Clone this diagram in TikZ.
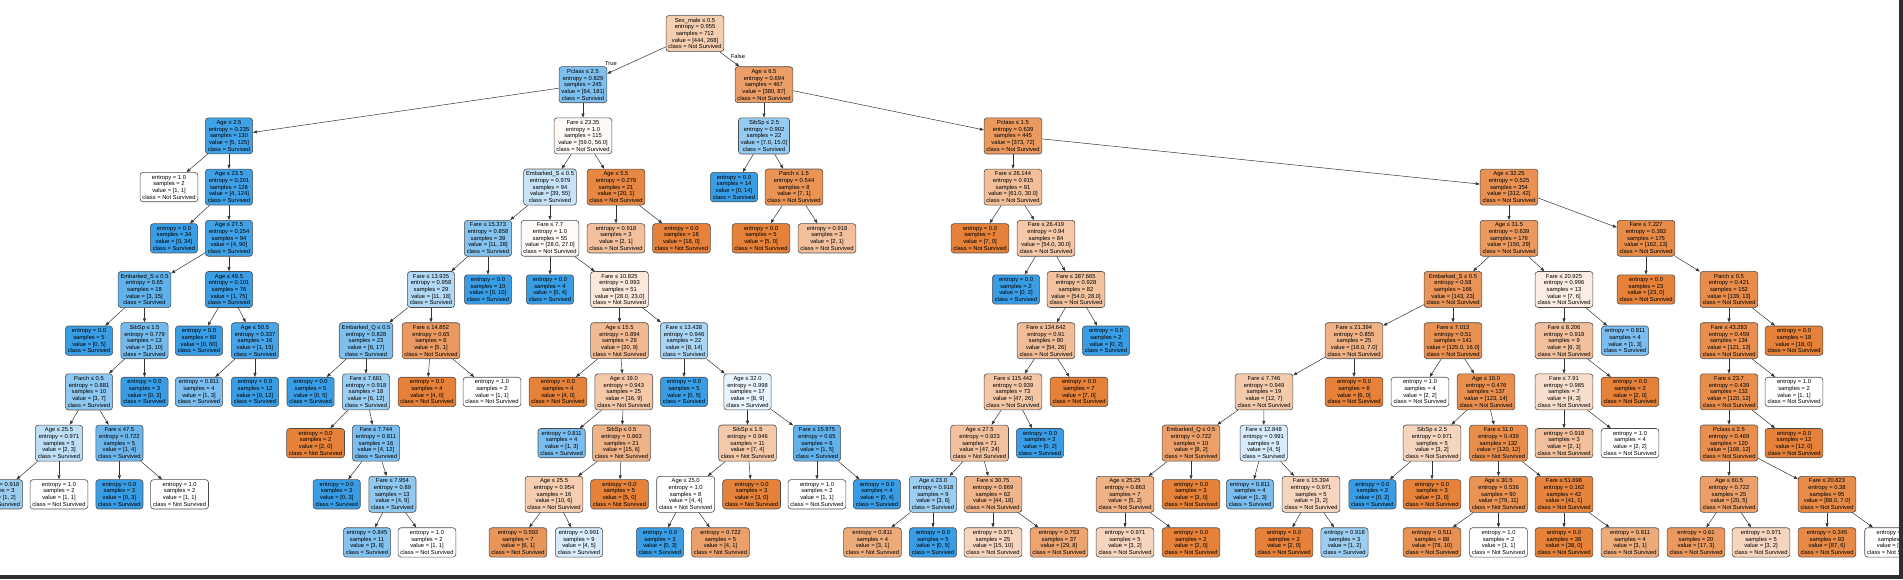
\documentclass[tikz,border=0pt]{standalone}
\usepackage{fontspec}
\usepackage{tikz}
\usetikzlibrary{arrows.meta}
\newfontfamily\treefont{Liberation Sans}
\definecolor{ns}{HTML}{E58139}
\definecolor{sv}{HTML}{399DE5}
\definecolor{barc}{HTML}{2E2E2E}

\begin{document}
\begin{tikzpicture}[x=1pt,y=-1pt,
    box/.style={draw=black!70,line width=0.6pt,rounded corners=3pt,align=center,
        inner xsep=2.4pt,inner ysep=2.6pt,font=\treefont\fontsize{5.8}{6.67}\selectfont},
    edge/.style={draw=black!80,line width=0.5pt,-{Triangle[length=4pt,width=3pt]}},
    elabel/.style={font=\treefont\fontsize{5.8}{6.67}\selectfont,inner sep=0pt}]
        \useasboundingbox(0,0)rectangle(1903,579);
        \clip(0,0)rectangle(1903,579);

        % level 0 and 1
        \node[box,fill=ns!40](n0)at(695,33.5){Sex\_male ≤ 0.5\\entropy = 0.955\\samples = 712\\value = [444, 268]\\class = Not Survived};
        \node[box,fill=sv!65](n1)at(583,84.7){Pclass ≤ 2.5\\entropy = 0.829\\samples = 245\\value = [64, 181]\\class = Survived};
        \node[box,fill=ns!77](n66)at(764,84.7){Age ≤ 6.5\\entropy = 0.694\\samples = 467\\value = [380, 87]\\class = Not Survived};

        % level 2
        \node[box,fill=sv!96](n2)at(229,135.9){Age ≤ 2.5\\entropy = 0.235\\samples = 130\\value = [5, 125]\\class = Survived};
        \node[box,fill=ns!5](n23)at(583,135.9){Fare ≤ 23.35\\entropy = 1.0\\samples = 115\\value = [59.0, 56.0]\\class = Not Survived};
        \node[box,fill=sv!53](n67)at(764,135.9){SibSp ≤ 2.5\\entropy = 0.902\\samples = 22\\value = [7.0, 15.0]\\class = Survived};
        \node[box,fill=ns!81](n72)at(1013,135.9){Pclass ≤ 1.5\\entropy = 0.639\\samples = 445\\value = [373, 72]\\class = Not Survived};

        % level 3
        \node[box,fill=white](n3)at(169,187.1){entropy = 1.0\\samples = 2\\value = [1, 1]\\class = Not Survived};
        \node[box,fill=sv!97](n4)at(229,187.1){Age ≤ 23.5\\entropy = 0.201\\samples = 128\\value = [4, 124]\\class = Survived};
        \node[box,fill=sv!29](n24)at(550,187.1){Embarked\_S ≤ 0.5\\entropy = 0.979\\samples = 94\\value = [39, 55]\\class = Survived};
        \node[box,fill=ns!95](n63)at(616,187.1){Age ≤ 5.5\\entropy = 0.276\\samples = 21\\value = [20, 1]\\class = Not Survived};
        \node[box,fill=sv](n68)at(734,187.1){entropy = 0.0\\samples = 14\\value = [0, 14]\\class = Survived};
        \node[box,fill=ns!86](n69)at(794,187.1){Parch ≤ 1.5\\entropy = 0.544\\samples = 8\\value = [7, 1]\\class = Not Survived};
        \node[box,fill=ns!51](n73)at(1013,187.1){Fare ≤ 26.144\\entropy = 0.915\\samples = 91\\value = [61.0, 30.0]\\class = Not Survived};
        \node[box,fill=ns!87](n90)at(1509,187.1){Age ≤ 32.25\\entropy = 0.525\\samples = 354\\value = [312, 42]\\class = Not Survived};

        % level 4
        \node[box,fill=sv](n5)at(174,238.3){entropy = 0.0\\samples = 34\\value = [0, 34]\\class = Survived};
        \node[box,fill=sv!96](n6)at(229,238.3){Age ≤ 27.5\\entropy = 0.254\\samples = 94\\value = [4, 90]\\class = Survived};
        \node[box,fill=sv!61](n25)at(488,238.3){Fare ≤ 15.373\\entropy = 0.858\\samples = 39\\value = [11, 28]\\class = Survived};
        \node[box,fill=ns!4](n40)at(550,238.3){Fare ≤ 7.7\\entropy = 1.0\\samples = 55\\value = [28.0, 27.0]\\class = Not Survived};
        \node[box,fill=ns!50](n64)at(616,238.3){entropy = 0.918\\samples = 3\\value = [2, 1]\\class = Not Survived};
        \node[box,fill=ns](n65)at(681.5,238.3){entropy = 0.0\\samples = 18\\value = [18, 0]\\class = Not Survived};
        \node[box,fill=ns](n70)at(761,238.3){entropy = 0.0\\samples = 5\\value = [5, 0]\\class = Not Survived};
        \node[box,fill=ns!50](n71)at(827,238.3){entropy = 0.918\\samples = 3\\value = [2, 1]\\class = Not Survived};
        \node[box,fill=ns](n74)at(980,238.3){entropy = 0.0\\samples = 7\\value = [7, 0]\\class = Not Survived};
        \node[box,fill=ns!44](n75)at(1046,238.3){Fare ≤ 26.419\\entropy = 0.94\\samples = 84\\value = [54.0, 30.0]\\class = Not Survived};
        \node[box,fill=ns!81](n91)at(1509,238.3){Age ≤ 31.5\\entropy = 0.639\\samples = 179\\value = [150, 29]\\class = Not Survived};
        \node[box,fill=ns!92](n126)at(1646,238.3){Fare ≤ 7.227\\entropy = 0.382\\samples = 175\\value = [162, 13]\\class = Not Survived};

        % level 5
        \node[box,fill=sv!80](n7)at(144.5,289.5){Embarked\_S ≤ 0.5\\entropy = 0.65\\samples = 18\\value = [3, 15]\\class = Survived};
        \node[box,fill=sv!99](n18)at(229,289.5){Age ≤ 49.5\\entropy = 0.101\\samples = 76\\value = [1, 75]\\class = Survived};
        \node[box,fill=sv!39](n26)at(431,289.5){Fare ≤ 13.935\\entropy = 0.958\\samples = 29\\value = [11, 18]\\class = Survived};
        \node[box,fill=sv](n39)at(488,289.5){entropy = 0.0\\samples = 10\\value = [0, 10]\\class = Survived};
        \node[box,fill=sv](n41)at(550,289.5){entropy = 0.0\\samples = 4\\value = [0, 4]\\class = Survived};
        \node[box,fill=ns!18](n42)at(619.5,289.5){Fare ≤ 10.825\\entropy = 0.993\\samples = 51\\value = [28.0, 23.0]\\class = Not Survived};
        \node[box,fill=sv](n76)at(1016,289.5){entropy = 0.0\\samples = 2\\value = [0, 2]\\class = Survived};
        \node[box,fill=ns!48](n77)at(1076,289.5){Fare ≤ 387.665\\entropy = 0.928\\samples = 82\\value = [54.0, 28.0]\\class = Not Survived};
        \node[box,fill=ns!84](n92)at(1453,289.5){Embarked\_S ≤ 0.5\\entropy = 0.58\\samples = 166\\value = [143, 23]\\class = Not Survived};
        \node[box,fill=ns!14](n119)at(1564,289.5){Fare ≤ 20.925\\entropy = 0.996\\samples = 13\\value = [7, 6]\\class = Not Survived};
        \node[box,fill=ns](n127)at(1646,289.5){entropy = 0.0\\samples = 23\\value = [23, 0]\\class = Not Survived};
        \node[box,fill=ns!91](n128)at(1729,289.5){Parch ≤ 0.5\\entropy = 0.421\\samples = 152\\value = [139, 13]\\class = Not Survived};

        % level 6
        \node[box,fill=sv](n8)at(89,340.7){entropy = 0.0\\samples = 5\\value = [0, 5]\\class = Survived};
        \node[box,fill=sv!70](n9)at(144.5,340.7){SibSp ≤ 1.5\\entropy = 0.779\\samples = 13\\value = [3, 10]\\class = Survived};
        \node[box,fill=sv](n19)at(199,340.7){entropy = 0.0\\samples = 60\\value = [0, 60]\\class = Survived};
        \node[box,fill=sv!93](n20)at(255,340.7){Age ≤ 50.5\\entropy = 0.337\\samples = 16\\value = [1, 15]\\class = Survived};
        \node[box,fill=sv!65](n27)at(366,340.7){Embarked\_Q ≤ 0.5\\entropy = 0.828\\samples = 23\\value = [6, 17]\\class = Survived};
        \node[box,fill=ns!80](n36)at(431,340.7){Fare ≤ 14.852\\entropy = 0.65\\samples = 6\\value = [5, 1]\\class = Not Survived};
        \node[box,fill=ns!55](n43)at(619.5,340.7){Age ≤ 15.5\\entropy = 0.894\\samples = 29\\value = [20, 9]\\class = Not Survived};
        \node[box,fill=sv!43](n52)at(684,340.7){Fare ≤ 13.438\\entropy = 0.946\\samples = 22\\value = [8, 14]\\class = Survived};
        \node[box,fill=ns!52](n78)at(1046,340.7){Fare ≤ 134.642\\entropy = 0.91\\samples = 80\\value = [54, 26]\\class = Not Survived};
        \node[box,fill=sv](n89)at(1106,340.7){entropy = 0.0\\samples = 2\\value = [0, 2]\\class = Survived};
        \node[box,fill=ns!61](n93)at(1354,340.7){Fare ≤ 21.394\\entropy = 0.855\\samples = 25\\value = [18.0, 7.0]\\class = Not Survived};
        \node[box,fill=ns!87](n106)at(1453,340.7){Fare ≤ 7.013\\entropy = 0.51\\samples = 141\\value = [125.0, 16.0]\\class = Not Survived};
        \node[box,fill=ns!50](n120)at(1564,340.7){Fare ≤ 8.206\\entropy = 0.918\\samples = 9\\value = [6, 3]\\class = Not Survived};
        \node[box,fill=sv!67](n125)at(1625,340.7){entropy = 0.811\\samples = 4\\value = [1, 3]\\class = Survived};
        \node[box,fill=ns!89](n129)at(1729,340.7){Fare ≤ 43.283\\entropy = 0.459\\samples = 134\\value = [121, 13]\\class = Not Survived};
        \node[box,fill=ns](n140)at(1794,340.7){entropy = 0.0\\samples = 18\\value = [18, 0]\\class = Not Survived};

        % level 7
        \node[box,fill=sv!57](n10)at(89,391.9){Parch ≤ 0.5\\entropy = 0.881\\samples = 10\\value = [3, 7]\\class = Survived};
        \node[box,fill=sv](n17)at(144.5,391.9){entropy = 0.0\\samples = 3\\value = [0, 3]\\class = Survived};
        \node[box,fill=sv!67](n21)at(199,391.9){entropy = 0.811\\samples = 4\\value = [1, 3]\\class = Survived};
        \node[box,fill=sv](n22)at(255,391.9){entropy = 0.0\\samples = 12\\value = [0, 12]\\class = Survived};
        \node[box,fill=sv](n28)at(310.6,391.9){entropy = 0.0\\samples = 5\\value = [0, 5]\\class = Survived};
        \node[box,fill=sv!50](n29)at(366,391.9){Fare ≤ 7.681\\entropy = 0.918\\samples = 18\\value = [6, 12]\\class = Survived};
        \node[box,fill=ns](n37)at(427,391.9){entropy = 0.0\\samples = 4\\value = [4, 0]\\class = Not Survived};
        \node[box,fill=white](n38)at(492,391.9){entropy = 1.0\\samples = 2\\value = [1, 1]\\class = Not Survived};
        \node[box,fill=ns](n44)at(558,391.9){entropy = 0.0\\samples = 4\\value = [4, 0]\\class = Not Survived};
        \node[box,fill=ns!44](n45)at(623.8,391.9){Age ≤ 19.0\\entropy = 0.943\\samples = 25\\value = [16, 9]\\class = Not Survived};
        \node[box,fill=sv](n53)at(684,391.9){entropy = 0.0\\samples = 5\\value = [0, 5]\\class = Survived};
        \node[box,fill=sv!11](n54)at(747.5,391.9){Age ≤ 32.0\\entropy = 0.998\\samples = 17\\value = [8, 9]\\class = Survived};
        \node[box,fill=ns!45](n79)at(1013,391.9){Fare ≤ 115.442\\entropy = 0.939\\samples = 73\\value = [47, 26]\\class = Not Survived};
        \node[box,fill=ns](n88)at(1079,391.9){entropy = 0.0\\samples = 7\\value = [7, 0]\\class = Not Survived};
        \node[box,fill=ns!42](n94)at(1264,391.9){Fare ≤ 7.746\\entropy = 0.949\\samples = 19\\value = [12, 7]\\class = Not Survived};
        \node[box,fill=ns](n105)at(1354,391.9){entropy = 0.0\\samples = 6\\value = [6, 0]\\class = Not Survived};
        \node[box,fill=white](n107)at(1420,391.9){entropy = 1.0\\samples = 4\\value = [2, 2]\\class = Not Survived};
        \node[box,fill=ns!89](n108)at(1486,391.9){Age ≤ 10.0\\entropy = 0.476\\samples = 137\\value = [123, 14]\\class = Not Survived};
        \node[box,fill=ns!25](n121)at(1564,391.9){Fare ≤ 7.91\\entropy = 0.985\\samples = 7\\value = [4, 3]\\class = Not Survived};
        \node[box,fill=ns](n124)at(1630,391.9){entropy = 0.0\\samples = 2\\value = [2, 0]\\class = Not Survived};
        \node[box,fill=ns!90](n130)at(1729,391.9){Fare ≤ 23.7\\entropy = 0.439\\samples = 132\\value = [120, 12]\\class = Not Survived};
        \node[box,fill=white](n139)at(1794,391.9){entropy = 1.0\\samples = 2\\value = [1, 1]\\class = Not Survived};

        % level 8
        \node[box,fill=sv!33](n11)at(59,443.1){Age ≤ 25.5\\entropy = 0.971\\samples = 5\\value = [2, 3]\\class = Survived};
        \node[box,fill=sv!75](n14)at(119.4,443.1){Fare ≤ 47.5\\entropy = 0.722\\samples = 5\\value = [1, 4]\\class = Survived};
        \node[box,fill=ns](n30)at(315.6,443.1){entropy = 0.0\\samples = 2\\value = [2, 0]\\class = Not Survived};
        \node[box,fill=sv!67](n31)at(376,443.1){Fare ≤ 7.744\\entropy = 0.811\\samples = 16\\value = [4, 12]\\class = Survived};
        \node[box,fill=sv!67](n46)at(561.6,443.1){entropy = 0.811\\samples = 4\\value = [1, 3]\\class = Survived};
        \node[box,fill=ns!60](n47)at(621.5,443.1){SibSp ≤ 0.5\\entropy = 0.863\\samples = 21\\value = [15, 6]\\class = Not Survived};
        \node[box,fill=ns!43](n55)at(747.5,443.1){SibSp ≤ 1.5\\entropy = 0.946\\samples = 11\\value = [7, 4]\\class = Not Survived};
        \node[box,fill=sv!80](n60)at(817,443.1){Fare ≤ 15.975\\entropy = 0.65\\samples = 6\\value = [1, 5]\\class = Survived};
        \node[box,fill=ns!49](n80)at(979.6,443.1){Age ≤ 27.5\\entropy = 0.923\\samples = 71\\value = [47, 24]\\class = Not Survived};
        \node[box,fill=sv](n87)at(1040,443.1){entropy = 0.0\\samples = 2\\value = [0, 2]\\class = Survived};
        \node[box,fill=ns!75](n95)at(1191,443.1){Embarked\_Q ≤ 0.5\\entropy = 0.722\\samples = 10\\value = [8, 2]\\class = Not Survived};
        \node[box,fill=sv!20](n100)at(1263.7,443.1){Fare ≤ 12.848\\entropy = 0.991\\samples = 9\\value = [4, 5]\\class = Survived};
        \node[box,fill=ns!33](n109)at(1432,443.1){SibSp ≤ 2.5\\entropy = 0.971\\samples = 5\\value = [3, 2]\\class = Not Survived};
        \node[box,fill=ns!90](n112)at(1498.5,443.1){Fare ≤ 11.0\\entropy = 0.439\\samples = 132\\value = [120, 12]\\class = Not Survived};
        \node[box,fill=ns!50](n122)at(1564,443.1){entropy = 0.918\\samples = 3\\value = [2, 1]\\class = Not Survived};
        \node[box,fill=white](n123)at(1630,443.1){entropy = 1.0\\samples = 4\\value = [2, 2]\\class = Not Survived};
        \node[box,fill=ns!89](n131)at(1729,443.1){Pclass ≤ 2.5\\entropy = 0.469\\samples = 120\\value = [108, 12]\\class = Not Survived};
        \node[box,fill=ns](n138)at(1794,443.1){entropy = 0.0\\samples = 12\\value = [12, 0]\\class = Not Survived};

        % level 9
        \node[box,fill=sv!50](n12)at(-1,494.3){entropy = 0.918\\samples = 3\\value = [1, 2]\\class = Survived};
        \node[box,fill=white](n13)at(59,494.3){entropy = 1.0\\samples = 2\\value = [1, 1]\\class = Not Survived};
        \node[box,fill=sv](n15)at(119.4,494.3){entropy = 0.0\\samples = 3\\value = [0, 3]\\class = Survived};
        \node[box,fill=white](n16)at(179.6,494.3){entropy = 1.0\\samples = 2\\value = [1, 1]\\class = Not Survived};
        \node[box,fill=sv](n32)at(336.7,494.3){entropy = 0.0\\samples = 3\\value = [0, 3]\\class = Survived};
        \node[box,fill=sv!56](n33)at(392.4,494.3){Fare ≤ 7.954\\entropy = 0.89\\samples = 13\\value = [4, 9]\\class = Survived};
        \node[box,fill=ns!40](n48)at(554,494.3){Age ≤ 25.5\\entropy = 0.954\\samples = 16\\value = [10, 6]\\class = Not Survived};
        \node[box,fill=ns](n51)at(619.5,494.3){entropy = 0.0\\samples = 5\\value = [5, 0]\\class = Not Survived};
        \node[box,fill=white](n56)at(685.7,494.3){Age ≤ 25.0\\entropy = 1.0\\samples = 8\\value = [4, 4]\\class = Not Survived};
        \node[box,fill=ns](n59)at(751.6,494.3){entropy = 0.0\\samples = 3\\value = [3, 0]\\class = Not Survived};
        \node[box,fill=white](n61)at(817,494.3){entropy = 1.0\\samples = 2\\value = [1, 1]\\class = Not Survived};
        \node[box,fill=sv](n62)at(877,494.3){entropy = 0.0\\samples = 4\\value = [0, 4]\\class = Survived};
        \node[box,fill=sv!50](n81)at(933,494.3){Age ≤ 23.0\\entropy = 0.918\\samples = 9\\value = [3, 6]\\class = Survived};
        \node[box,fill=ns!59](n84)at(993,494.3){Fare ≤ 30.75\\entropy = 0.869\\samples = 62\\value = [44, 18]\\class = Not Survived};
        \node[box,fill=ns!60](n96)at(1125,494.3){Age ≤ 25.25\\entropy = 0.863\\samples = 7\\value = [5, 2]\\class = Not Survived};
        \node[box,fill=ns](n99)at(1191,494.3){entropy = 0.0\\samples = 3\\value = [3, 0]\\class = Not Survived};
        \node[box,fill=sv!67](n101)at(1250,494.3){entropy = 0.811\\samples = 4\\value = [1, 3]\\class = Survived};
        \node[box,fill=ns!33](n102)at(1311,494.3){Fare ≤ 15.394\\entropy = 0.971\\samples = 5\\value = [3, 2]\\class = Not Survived};
        \node[box,fill=sv](n110)at(1372.4,494.3){entropy = 0.0\\samples = 2\\value = [0, 2]\\class = Survived};
        \node[box,fill=ns](n111)at(1432,494.3){entropy = 0.0\\samples = 3\\value = [3, 0]\\class = Not Survived};
        \node[box,fill=ns!86](n113)at(1498.5,494.3){Age ≤ 30.5\\entropy = 0.536\\samples = 90\\value = [79, 11]\\class = Not Survived};
        \node[box,fill=ns!98](n116)at(1564,494.3){Fare ≤ 51.698\\entropy = 0.162\\samples = 42\\value = [41, 1]\\class = Not Survived};
        \node[box,fill=ns!75](n132)at(1729,494.3){Age ≤ 60.5\\entropy = 0.722\\samples = 25\\value = [20, 5]\\class = Not Survived};
        \node[box,fill=ns!92](n135)at(1827,494.3){Fare ≤ 20.823\\entropy = 0.38\\samples = 95\\value = [88.0, 7.0]\\class = Not Survived};

        % level 10
        \node[box,fill=sv!62](n34)at(367,542.4){entropy = 0.845\\samples = 11\\value = [3, 8]\\class = Survived};
        \node[box,fill=white](n35)at(427,542.4){entropy = 1.0\\samples = 2\\value = [1, 1]\\class = Not Survived};
        \node[box,fill=ns!83](n49)at(518,542.4){entropy = 0.592\\samples = 7\\value = [6, 1]\\class = Not Survived};
        \node[box,fill=sv!20](n50)at(579,542.4){entropy = 0.991\\samples = 9\\value = [4, 5]\\class = Survived};
        \node[box,fill=sv](n57)at(660,542.4){entropy = 0.0\\samples = 3\\value = [0, 3]\\class = Survived};
        \node[box,fill=ns!75](n58)at(720.5,542.4){entropy = 0.722\\samples = 5\\value = [4, 1]\\class = Not Survived};
        \node[box,fill=ns!67](n82)at(872.5,542.4){entropy = 0.811\\samples = 4\\value = [3, 1]\\class = Not Survived};
        \node[box,fill=sv](n83)at(933,542.4){entropy = 0.0\\samples = 5\\value = [0, 5]\\class = Survived};
        \node[box,fill=ns!33](n85)at(993,542.4){entropy = 0.971\\samples = 25\\value = [15, 10]\\class = Not Survived};
        \node[box,fill=ns!72](n86)at(1059,542.4){entropy = 0.753\\samples = 37\\value = [29, 8]\\class = Not Survived};
        \node[box,fill=ns!33](n97)at(1125,542.4){entropy = 0.971\\samples = 5\\value = [3, 2]\\class = Not Survived};
        \node[box,fill=ns](n98)at(1191,542.4){entropy = 0.0\\samples = 2\\value = [2, 0]\\class = Not Survived};
        \node[box,fill=ns](n103)at(1284,542.4){entropy = 0.0\\samples = 2\\value = [2, 0]\\class = Not Survived};
        \node[box,fill=sv!50](n104)at(1344.5,542.4){entropy = 0.918\\samples = 3\\value = [1, 2]\\class = Survived};
        \node[box,fill=ns!87](n114)at(1432,542.4){entropy = 0.511\\samples = 88\\value = [78, 10]\\class = Not Survived};
        \node[box,fill=white](n115)at(1498.5,542.4){entropy = 1.0\\samples = 2\\value = [1, 1]\\class = Not Survived};
        \node[box,fill=ns](n117)at(1564,542.4){entropy = 0.0\\samples = 38\\value = [38, 0]\\class = Not Survived};
        \node[box,fill=ns!67](n118)at(1630,542.4){entropy = 0.811\\samples = 4\\value = [3, 1]\\class = Not Survived};
        \node[box,fill=ns!82](n133)at(1696,542.4){entropy = 0.61\\samples = 20\\value = [17, 3]\\class = Not Survived};
        \node[box,fill=ns!33](n134)at(1761,542.4){entropy = 0.971\\samples = 5\\value = [3, 2]\\class = Not Survived};
        \node[box,fill=ns!93](n136)at(1827,542.4){entropy = 0.345\\samples = 93\\value = [87, 6]\\class = Not Survived};
        \node[box,fill=white](n137)at(1893.6,542.4){entropy = 1.0\\samples = 2\\value = [1, 1]\\class = Not Survived};

        % edges
        \draw[edge](n0)--(n1); \draw[edge](n0)--(n66);
        \node[elabel](lbT)at(611,63.3){True};
        \node[elabel](lbF)at(738,56.7){False};
        \draw[edge](n1)--(n2); \draw[edge](n1)--(n23);
        \draw[edge](n2)--(n3); \draw[edge](n2)--(n4);
        \draw[edge](n4)--(n5); \draw[edge](n4)--(n6);
        \draw[edge](n6)--(n7); \draw[edge](n6)--(n18);
        \draw[edge](n7)--(n8); \draw[edge](n7)--(n9);
        \draw[edge](n9)--(n10); \draw[edge](n9)--(n17);
        \draw[edge](n10)--(n11); \draw[edge](n10)--(n14);
        \draw[edge](n11)--(n12); \draw[edge](n11)--(n13);
        \draw[edge](n14)--(n15); \draw[edge](n14)--(n16);
        \draw[edge](n18)--(n19); \draw[edge](n18)--(n20);
        \draw[edge](n20)--(n21); \draw[edge](n20)--(n22);
        \draw[edge](n23)--(n24); \draw[edge](n23)--(n63);
        \draw[edge](n24)--(n25); \draw[edge](n24)--(n40);
        \draw[edge](n25)--(n26); \draw[edge](n25)--(n39);
        \draw[edge](n26)--(n27); \draw[edge](n26)--(n36);
        \draw[edge](n27)--(n28); \draw[edge](n27)--(n29);
        \draw[edge](n29)--(n30); \draw[edge](n29)--(n31);
        \draw[edge](n31)--(n32); \draw[edge](n31)--(n33);
        \draw[edge](n33)--(n34); \draw[edge](n33)--(n35);
        \draw[edge](n36)--(n37); \draw[edge](n36)--(n38);
        \draw[edge](n40)--(n41); \draw[edge](n40)--(n42);
        \draw[edge](n42)--(n43); \draw[edge](n42)--(n52);
        \draw[edge](n43)--(n44); \draw[edge](n43)--(n45);
        \draw[edge](n45)--(n46); \draw[edge](n45)--(n47);
        \draw[edge](n47)--(n48); \draw[edge](n47)--(n51);
        \draw[edge](n48)--(n49); \draw[edge](n48)--(n50);
        \draw[edge](n52)--(n53); \draw[edge](n52)--(n54);
        \draw[edge](n54)--(n55); \draw[edge](n54)--(n60);
        \draw[edge](n55)--(n56); \draw[edge](n55)--(n59);
        \draw[edge](n56)--(n57); \draw[edge](n56)--(n58);
        \draw[edge](n60)--(n61); \draw[edge](n60)--(n62);
        \draw[edge](n63)--(n64); \draw[edge](n63)--(n65);
        \draw[edge](n66)--(n67); \draw[edge](n66)--(n72);
        \draw[edge](n67)--(n68); \draw[edge](n67)--(n69);
        \draw[edge](n69)--(n70); \draw[edge](n69)--(n71);
        \draw[edge](n72)--(n73); \draw[edge](n72)--(n90);
        \draw[edge](n73)--(n74); \draw[edge](n73)--(n75);
        \draw[edge](n75)--(n76); \draw[edge](n75)--(n77);
        \draw[edge](n77)--(n78); \draw[edge](n77)--(n89);
        \draw[edge](n78)--(n79); \draw[edge](n78)--(n88);
        \draw[edge](n79)--(n80); \draw[edge](n79)--(n87);
        \draw[edge](n80)--(n81); \draw[edge](n80)--(n84);
        \draw[edge](n81)--(n82); \draw[edge](n81)--(n83);
        \draw[edge](n84)--(n85); \draw[edge](n84)--(n86);
        \draw[edge](n90)--(n91); \draw[edge](n90)--(n126);
        \draw[edge](n91)--(n92); \draw[edge](n91)--(n119);
        \draw[edge](n92)--(n93); \draw[edge](n92)--(n106);
        \draw[edge](n93)--(n94); \draw[edge](n93)--(n105);
        \draw[edge](n94)--(n95); \draw[edge](n94)--(n100);
        \draw[edge](n95)--(n96); \draw[edge](n95)--(n99);
        \draw[edge](n96)--(n97); \draw[edge](n96)--(n98);
        \draw[edge](n100)--(n101); \draw[edge](n100)--(n102);
        \draw[edge](n102)--(n103); \draw[edge](n102)--(n104);
        \draw[edge](n106)--(n107); \draw[edge](n106)--(n108);
        \draw[edge](n108)--(n109); \draw[edge](n108)--(n112);
        \draw[edge](n109)--(n110); \draw[edge](n109)--(n111);
        \draw[edge](n112)--(n113); \draw[edge](n112)--(n116);
        \draw[edge](n113)--(n114); \draw[edge](n113)--(n115);
        \draw[edge](n116)--(n117); \draw[edge](n116)--(n118);
        \draw[edge](n119)--(n120); \draw[edge](n119)--(n125);
        \draw[edge](n120)--(n121); \draw[edge](n120)--(n124);
        \draw[edge](n121)--(n122); \draw[edge](n121)--(n123);
        \draw[edge](n126)--(n127); \draw[edge](n126)--(n128);
        \draw[edge](n128)--(n129); \draw[edge](n128)--(n140);
        \draw[edge](n129)--(n130); \draw[edge](n129)--(n139);
        \draw[edge](n130)--(n131); \draw[edge](n130)--(n138);
        \draw[edge](n131)--(n132); \draw[edge](n131)--(n135);
        \draw[edge](n132)--(n133); \draw[edge](n132)--(n134);
        \draw[edge](n135)--(n136); \draw[edge](n135)--(n137);

        % screenshot frame
        \fill[barc](0,575)rectangle(1903,579);
        \fill[barc](1899,0)rectangle(1903,579);
    \end{tikzpicture}
\end{document}
